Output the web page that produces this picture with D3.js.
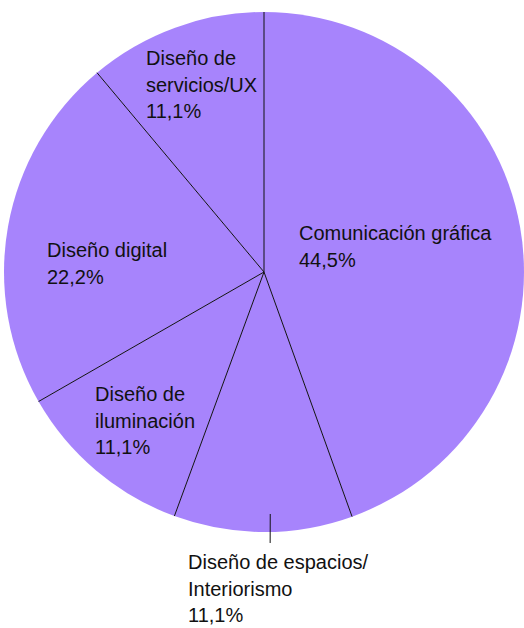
<!DOCTYPE html>
<html>
<head>
<meta charset="utf-8">
<script src="https://cdn.jsdelivr.net/npm/d3@7"></script>
<style>
  body { margin: 0; background: #fff; }
  svg text { font-family: "Liberation Sans", Arial, sans-serif; font-size: 20px; fill: #111; }
</style>
</head>
<body>
<svg class="pie" width="524" height="628"></svg>
<script>
// data
let categories = ['Comunicación gráfica', 'Diseño de espacios/Interiorismo', 'Diseño de iluminación', 'Diseño digital', 'Diseño de servicios/UX'];
let shares = [44.5, 11.1, 11.1, 22.2, 11.1];
let labelLines = [
  ['Comunicación gráfica'],
  ['Diseño de espacios/', 'Interiorismo'],
  ['Diseño de', 'iluminación'],
  ['Diseño digital'],
  ['Diseño de', 'servicios/UX']
];

// layout
let cx = 264, cy = 272, radius = 260;
let lineGap = 26.5;
// where each label block starts, relative to the centre
let labelOffsets = [[35, -32], [-76, 297], [-169, 129], [-217, -15], [-118, -207]];

let fmt = v => d3.format('.1f')(v).replace('.', ',') + '%';

let svg = d3.select('svg.pie');
let g = svg.append('g').attr('transform', `translate(${cx},${cy})`);

let pie = d3.pie().sort(null).value(d => d);
let arcs = pie(shares);
let arc = d3.arc().innerRadius(0).outerRadius(radius);

g.selectAll('path.slice')
  .data(arcs)
  .enter()
  .append('path')
  .attr('class', 'slice')
  .attr('d', arc)
  .style('fill', '#a784fc');

// radial separators
g.selectAll('line.sep')
  .data(arcs)
  .enter()
  .append('line')
  .attr('x1', 0).attr('y1', 0)
  .attr('x2', d => radius * Math.sin(d.startAngle))
  .attr('y2', d => -radius * Math.cos(d.startAngle))
  .style('stroke', '#111')
  .style('stroke-width', 1);

// leader line for the small bottom slice
let bottom = arcs[1];
let mid = (bottom.startAngle + bottom.endAngle) / 2;
g.append('line')
  .attr('x1', (radius - 18) * Math.sin(mid) + 7)
  .attr('y1', -(radius - 18) * Math.cos(mid))
  .attr('x2', (radius + 11) * Math.sin(mid) + 7)
  .attr('y2', -(radius + 11) * Math.cos(mid))
  .style('stroke', '#111')
  .style('stroke-width', 1);

// labels
let labels = g.selectAll('text.lbl')
  .data(arcs)
  .enter()
  .append('text')
  .attr('class', 'lbl')
  .attr('transform', (d, i) => `translate(${labelOffsets[i][0]},${labelOffsets[i][1]})`);

labels.each(function(d, i) {
  let t = d3.select(this);
  let lines = labelLines[i].concat([fmt(d.data)]);
  lines.forEach((s, k) => {
    t.append('tspan').attr('x', 0).attr('y', k * lineGap).text(s);
  });
});
</script>
</body>
</html>
